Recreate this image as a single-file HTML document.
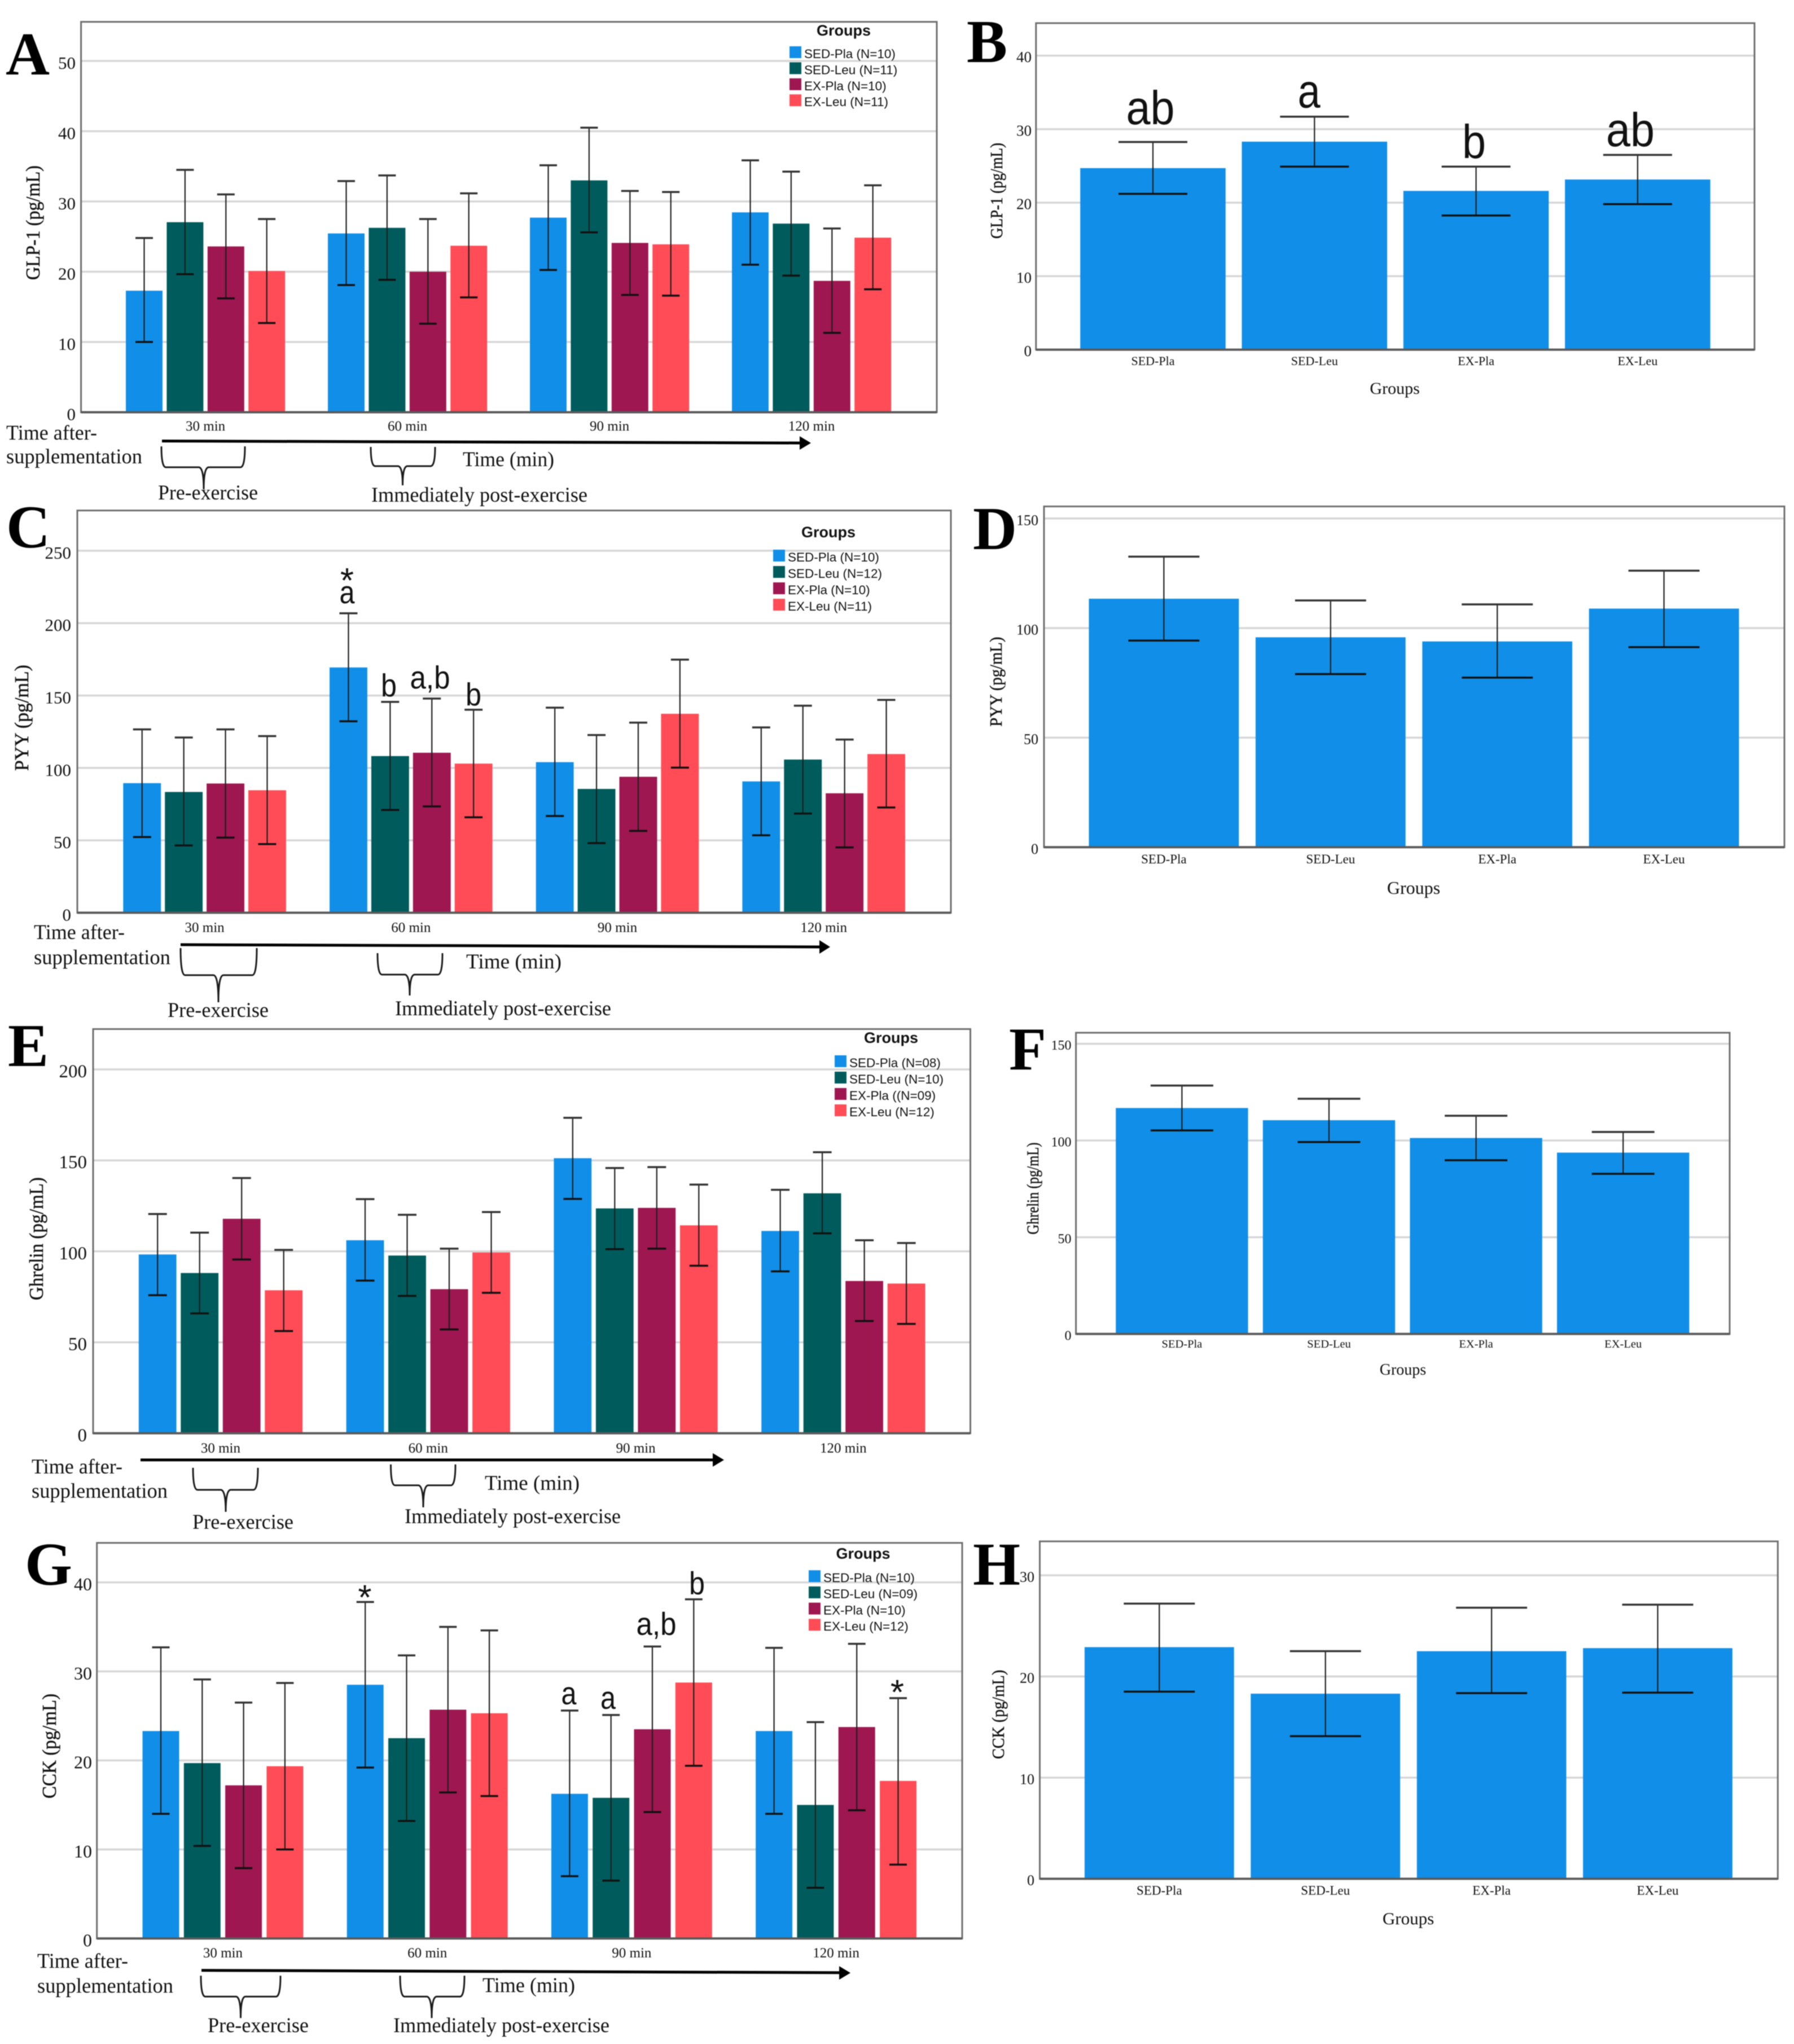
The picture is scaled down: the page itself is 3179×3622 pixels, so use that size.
<!DOCTYPE html>
<html lang="en">
<head>
<meta charset="utf-8">
<title>Gut hormone responses by group and time</title>
<style>
html,body{margin:0;padding:0;background:#fff;}
#figure{display:block;width:3179px;height:3622px;background:#fff;filter:blur(0.8px);}
text{font-family:"Liberation Serif",serif;fill:#111;}
.an{font-size:37px;fill:#111;}
.letter{font-family:"Liberation Serif",serif;font-weight:bold;font-size:108px;fill:#000;}
.ln{stroke:#000;fill:none;}
.br{stroke:#1a1a1a;stroke-width:3;fill:none;}
.stat{font-family:"Liberation Sans",sans-serif;fill:#111;}
</style>
</head>
<body>
<svg id="figure" xmlns="http://www.w3.org/2000/svg" width="3179" height="3622" viewBox="0 0 3179 3622">
  <rect width="3179" height="3622" fill="#fff"/>
  <g id="charts"></g>

  <g>
    <text class="letter" x="10" y="132">A</text>
    <text class="letter" x="1713" y="110">B</text>
    <text class="letter" x="11" y="970">C</text>
    <text class="letter" x="1724" y="973">D</text>
    <text class="letter" x="14" y="1889">E</text>
    <text class="letter" x="1788" y="1895">F</text>
    <text class="letter" x="44" y="2808">G</text>
    <text class="letter" x="1724" y="2808">H</text>
  </g>

  <g>
    <text class="an" x="11" y="779" textLength="161" lengthAdjust="spacingAndGlyphs">Time after-</text>
    <text class="an" x="11" y="821" textLength="241" lengthAdjust="spacingAndGlyphs">supplementation</text>
    <line class="ln" x1="287" y1="781.5" x2="1420" y2="785" stroke-width="5"/>
    <polygon points="1417,773 1437,785 1417,797" fill="#000"/>
    <text class="an" x="820" y="826" textLength="162" lengthAdjust="spacingAndGlyphs">Time (min)</text>
    <path class="br" d="M286 791 Q286 828 294 828 L352 828 Q361 828 361 867 Q361 828 370 828 L426 828 Q434 828 434 791"/>
    <path class="br" d="M657 792 Q657 826 665 826 L705 826 Q713.500 826 713.500 860 Q713.500 826 722 826 L763 826 Q771 826 771 792"/>
    <text class="an" x="280" y="885" textLength="177" lengthAdjust="spacingAndGlyphs">Pre-exercise</text>
    <text class="an" x="658" y="889" textLength="383" lengthAdjust="spacingAndGlyphs">Immediately post-exercise</text>
  </g>

  <g>
    <text class="an" x="60" y="1664" textLength="161" lengthAdjust="spacingAndGlyphs">Time after-</text>
    <text class="an" x="60" y="1708.500" textLength="242" lengthAdjust="spacingAndGlyphs">supplementation</text>
    <line class="ln" x1="320" y1="1674" x2="1455" y2="1678" stroke-width="5"/>
    <polygon points="1452,1666 1471,1678 1452,1690" fill="#000"/>
    <text class="an" x="826" y="1716" textLength="169" lengthAdjust="spacingAndGlyphs">Time (min)</text>
    <path class="br" d="M320 1680 Q320 1728 328 1728 L378 1728 Q387 1728 387 1776 Q387 1728 396 1728 L447 1728 Q455 1728 455 1680"/>
    <path class="br" d="M669 1689 Q669 1727 677 1727 L717 1727 Q726 1727 726 1764 Q726 1727 735 1727 L776 1727 Q784 1727 784 1689"/>
    <text class="an" x="297" y="1802" textLength="179" lengthAdjust="spacingAndGlyphs">Pre-exercise</text>
    <text class="an" x="700" y="1799" textLength="383" lengthAdjust="spacingAndGlyphs">Immediately post-exercise</text>
  </g>

  <g>
    <text class="an" x="56" y="2611" textLength="161" lengthAdjust="spacingAndGlyphs">Time after-</text>
    <text class="an" x="56" y="2654" textLength="241" lengthAdjust="spacingAndGlyphs">supplementation</text>
    <line class="ln" x1="249" y1="2587" x2="1266" y2="2587" stroke-width="5"/>
    <polygon points="1263,2575 1283,2587 1263,2599" fill="#000"/>
    <text class="an" x="859" y="2640" textLength="168" lengthAdjust="spacingAndGlyphs">Time (min)</text>
    <path class="br" d="M342 2601 Q342 2640 350 2640 L391 2640 Q400 2640 400 2679 Q400 2640 409 2640 L449 2640 Q457 2640 457 2601"/>
    <path class="br" d="M692.500 2595 Q692.500 2632 700 2632 L741 2632 Q750 2632 750 2671 Q750 2632 759 2632 L799 2632 Q807 2632 807 2595"/>
    <text class="an" x="341" y="2709" textLength="179" lengthAdjust="spacingAndGlyphs">Pre-exercise</text>
    <text class="an" x="717" y="2699" textLength="383" lengthAdjust="spacingAndGlyphs">Immediately post-exercise</text>
  </g>

  <g>
    <text class="an" x="66" y="3487" textLength="161" lengthAdjust="spacingAndGlyphs">Time after-</text>
    <text class="an" x="66" y="3531" textLength="241" lengthAdjust="spacingAndGlyphs">supplementation</text>
    <line class="ln" x1="357" y1="3491.500" x2="1490" y2="3495.600" stroke-width="5"/>
    <polygon points="1487,3484 1507,3496 1487,3508" fill="#000"/>
    <text class="an" x="855" y="3530" textLength="164" lengthAdjust="spacingAndGlyphs">Time (min)</text>
    <path class="br" d="M356 3501 Q356 3538 364 3538 L418 3538 Q426.500 3538 426.500 3576 Q426.500 3538 435 3538 L489 3538 Q497 3538 497 3501"/>
    <path class="br" d="M709 3501 Q709 3538 717 3538 L756 3538 Q765 3538 765 3576 Q765 3538 774 3538 L815 3538 Q823 3538 823 3501"/>
    <text class="an" x="368" y="3601" textLength="179" lengthAdjust="spacingAndGlyphs">Pre-exercise</text>
    <text class="an" x="697" y="3601" textLength="383" lengthAdjust="spacingAndGlyphs">Immediately post-exercise</text>
  </g>

  <g>
    <text class="stat" text-anchor="middle" font-size="84" x="2038.500" y="220" textLength="86" lengthAdjust="spacingAndGlyphs">ab</text>
    <text class="stat" text-anchor="middle" font-size="84" x="2319.600" y="190.700" textLength="40" lengthAdjust="spacingAndGlyphs">a</text>
    <text class="stat" text-anchor="middle" font-size="84" x="2612" y="280" textLength="42" lengthAdjust="spacingAndGlyphs">b</text>
    <text class="stat" text-anchor="middle" font-size="84" x="2889" y="259" textLength="86" lengthAdjust="spacingAndGlyphs">ab</text>

    <text class="stat" text-anchor="middle" font-size="62" x="615" y="1050">*</text>
    <text class="stat" text-anchor="middle" font-size="57" x="615" y="1069" textLength="27" lengthAdjust="spacingAndGlyphs">a</text>
    <text class="stat" text-anchor="middle" font-size="57" x="689" y="1234" textLength="28" lengthAdjust="spacingAndGlyphs">b</text>
    <text class="stat" text-anchor="middle" font-size="57" x="762" y="1220" textLength="71" lengthAdjust="spacingAndGlyphs">a,b</text>
    <text class="stat" text-anchor="middle" font-size="57" x="839" y="1250" textLength="28" lengthAdjust="spacingAndGlyphs">b</text>

    <text class="stat" text-anchor="middle" font-size="62" x="646.500" y="2852">*</text>
    <text class="stat" text-anchor="middle" font-size="57" x="1008" y="3020" textLength="27" lengthAdjust="spacingAndGlyphs">a</text>
    <text class="stat" text-anchor="middle" font-size="57" x="1077.500" y="3028" textLength="27" lengthAdjust="spacingAndGlyphs">a</text>
    <text class="stat" text-anchor="middle" font-size="57" x="1163" y="2897" textLength="71" lengthAdjust="spacingAndGlyphs">a,b</text>
    <text class="stat" text-anchor="middle" font-size="57" x="1235" y="2825" textLength="28" lengthAdjust="spacingAndGlyphs">b</text>
    <text class="stat" text-anchor="middle" font-size="62" x="1590" y="3020">*</text>
  </g>
</svg>

<script>
// ---- Shared categories ----
const timeLabels = ['30 min', '60 min', '90 min', '120 min'];
const groupLabels = ['SED-Pla', 'SED-Leu', 'EX-Pla', 'EX-Leu'];
const seriesColors = ['#118fe8', '#005c5c', '#9e1750', '#ff4c57'];

// ---- Panel A: GLP-1 by time ----
const aTicks = [0, 10, 20, 30, 40, 50];
const aMeans = [[17.3, 27.05, 23.6, 20.1], [25.45, 26.25, 20.0, 23.7], [27.7, 33.0, 24.1, 23.9], [28.45, 26.85, 18.7, 24.85]];
const aUpper = [[24.8, 34.5, 31.0, 27.5], [32.9, 33.7, 27.5, 31.15], [35.15, 40.5, 31.5, 31.35], [35.85, 34.25, 26.15, 32.3]];
const aLower = [[10.0, 19.65, 16.2, 12.7], [18.1, 18.85, 12.6, 16.35], [20.25, 25.6, 16.7, 16.6], [21.0, 19.45, 11.3, 17.5]];
const aLegend = ['SED-Pla (N=10)', 'SED-Leu (N=11)', 'EX-Pla (N=10)', 'EX-Leu (N=11)'];

// ---- Panel B: GLP-1 by group ----
const bTicks = [0, 10, 20, 30, 40];
const bMeans = [[24.7, 28.3, 21.6, 23.15]];
const bUpper = [[28.25, 31.7, 24.9, 26.5]];
const bLower = [[21.2, 24.9, 18.25, 19.8]];

// ---- Panel C: PYY by time ----
const cTicks = [0, 50, 100, 150, 200, 250];
const cMeans = [[89.5, 83.4, 89.25, 84.6], [169.4, 108.2, 110.5, 103], [104, 85.5, 93.9, 137.4], [90.7, 105.8, 82.5, 109.6]];
const cUpper = [[126.6, 121, 126.6, 122], [206.8, 145.6, 147.9, 140.2], [141.6, 122.7, 131.3, 174.8], [128, 143, 119.6, 147]];
const cLower = [[52.3, 46.5, 51.9, 47.4], [132.2, 71, 73.4, 65.9], [66.8, 48.1, 56.5, 100.2], [53.5, 68.5, 45.1, 72.7]];
const cLegend = ['SED-Pla (N=10)', 'SED-Leu (N=12)', 'EX-Pla (N=10)', 'EX-Leu (N=11)'];

// ---- Panel D: PYY by group ----
const dTicks = [0, 50, 100, 150];
const dMeans = [[113.4, 95.8, 93.9, 108.9]];
const dUpper = [[132.6, 112.6, 110.8, 126.2]];
const dLower = [[94.3, 79, 77.4, 91.3]];

// ---- Panel E: Ghrelin by time ----
const eTicks = [0, 50, 100, 150, 200];
const eMeans = [[98.3, 88.1, 117.9, 78.6], [106.1, 97.7, 79.2, 99.4], [151.2, 123.6, 123.9, 114.3], [111.2, 131.9, 83.7, 82.3]];
const eUpper = [[120.5, 110.3, 140.3, 100.8], [128.7, 120.1, 101.5, 121.6], [173.4, 145.8, 146.3, 136.7], [133.8, 154.5, 106.1, 104.6]];
const eLower = [[75.9, 65.9, 95.5, 56.2], [83.9, 75.5, 57.1, 77.2], [128.8, 101.2, 101.5, 92.1], [89, 109.9, 61.7, 60.1]];
const eLegend = ['SED-Pla (N=08)', 'SED-Leu (N=10)', 'EX-Pla ((N=09)', 'EX-Leu (N=12)'];

// ---- Panel F: Ghrelin by group ----
const fTicks = [0, 50, 100, 150];
const fMeans = [[116.8, 110.5, 101.3, 93.75]];
const fUpper = [[128.4, 121.6, 112.8, 104.4]];
const fLower = [[105.2, 99.2, 89.8, 82.8]];

// ---- Panel G: CCK by time ----
const gTicks = [0, 10, 20, 30, 40];
const gMeans = [[23.3, 19.7, 17.2, 19.35], [28.5, 22.5, 25.7, 25.3], [16.25, 15.8, 23.5, 28.75], [23.3, 15.0, 23.75, 17.7]];
const gUpper = [[32.7, 29.1, 26.5, 28.7], [37.8, 31.8, 35.0, 34.6], [25.6, 25.1, 32.8, 38.1], [32.65, 24.3, 33.1, 27.0]];
const gLower = [[14.0, 10.4, 7.9, 10.0], [19.2, 13.2, 16.4, 16.0], [7.0, 6.5, 14.2, 19.4], [14.0, 5.7, 14.4, 8.3]];
const gLegend = ['SED-Pla (N=10)', 'SED-Leu (N=09)', 'EX-Pla (N=10)', 'EX-Leu (N=12)'];

// ---- Panel H: CCK by group ----
const hTicks = [0, 10, 20, 30];
const hMeans = [[22.9, 18.3, 22.5, 22.8]];
const hUpper = [[27.2, 22.5, 26.8, 27.1]];
const hLower = [[18.5, 14.1, 18.35, 18.4]];

const SVGNS = 'http://www.w3.org/2000/svg';
const root = document.getElementById('charts');

function make(tag, attrs, parent, content) {
  const node = document.createElementNS(SVGNS, tag);
  for (const k in attrs) node.setAttribute(k, attrs[k]);
  if (content !== undefined) node.textContent = content;
  parent.appendChild(node);
  return node;
}

function drawPanel(p) {
  const g = make('g', {}, root);
  
  

  // axis functions
  const topTick = p.ticks[p.ticks.length - 1];
  const yScale = v => p.y0 - (v / topTick) * (p.y0 - p.yTop);
  const xBar = (gi, si) => p.barLeft + gi * p.groupStep + si * p.barStep;
  const xGroupCenter = gi => xBar(gi, 0) + (3 * p.barStep + p.barW) / 2;

  // gridlines
  p.ticks.forEach(t => {
    if (t === 0) return;
    const grid = make('line', { x1: p.L, x2: p.R, y1: yScale(t), y2: yScale(t), stroke: '#d6d6d6', 'stroke-width': 3.5 }, g);
    
    
  });

  // tick labels
  p.ticks.forEach(t => {
    const lab = make('text', { x: p.tickRight, y: yScale(t) + p.tickDy, 'text-anchor': 'end', 'font-size': p.tickFont, fill: '#222' }, g, String(t));
    
    
  });

  // bars
  p.means.forEach((row, gi) => {
    row.forEach((v, si) => {
      const bar = make('rect', {
        x: xBar(gi, si), y: yScale(v), width: p.barW, height: p.y0 - yScale(v),
        fill: p.grouped ? seriesColors[si] : seriesColors[0]
      }, g);
      
      
    });
  });

  // frame
  const frame = make('rect', { x: p.L, y: p.T, width: p.R - p.L, height: p.y0 - p.T, fill: 'none', stroke: '#6e6e6e', 'stroke-width': 3 }, g);
  
  
  const base = make('line', { x1: p.L, x2: p.R, y1: p.y0, y2: p.y0, stroke: '#5a5a5a', 'stroke-width': 4 }, g);
  
  

  // error bars
  p.means.forEach((row, gi) => {
    row.forEach((v, si) => {
      const cx = xBar(gi, si) + p.barW / 2;
      const hi = yScale(p.upper[gi][si]);
      const lo = yScale(p.lower[gi][si]);
      const stem = make('line', { x1: cx, x2: cx, y1: hi, y2: lo, stroke: '#1f1f1f', 'stroke-width': 2.2 }, g);
      
      
      const capHi = make('line', { x1: cx - p.capW / 2, x2: cx + p.capW / 2, y1: hi, y2: hi, stroke: '#333', 'stroke-width': 3.5 }, g);
      
      
      const capLo = make('line', { x1: cx - p.capW / 2, x2: cx + p.capW / 2, y1: lo, y2: lo, stroke: '#111', 'stroke-width': 3.5 }, g);
      
      
    });
  });

  // x category labels
  if (p.grouped) {
    timeLabels.forEach((t, gi) => {
      const lab = make('text', { x: xGroupCenter(gi), y: p.xLabelY, 'text-anchor': 'middle', 'font-size': p.xFont, fill: '#222' }, g, t);
      
      
    });
  } else {
    groupLabels.forEach((t, si) => {
      const lab = make('text', { x: xBar(0, si) + p.barW / 2, y: p.xLabelY, 'text-anchor': 'middle', 'font-size': p.xFont, fill: '#222' }, g, t);
      
      
    });
    const xt = make('text', { x: p.xTitleX, y: p.xTitleY, 'text-anchor': 'middle', 'font-size': p.xTitleFont, fill: '#222' }, g, 'Groups');
    
    
  }

  // y title
  const yt = make('text', {
    transform: 'translate(' + p.yTitleX + ' ' + p.yTitleY + ') rotate(-90)',
    'text-anchor': 'middle', 'font-size': p.yTitleFont, fill: '#222',
    stroke: '#222', 'stroke-width': 0.5,
    textLength: p.yTitleLen, lengthAdjust: 'spacingAndGlyphs'
  }, g, p.yTitle);
  
  

  // legend
  if (p.legend) {
    const lg = make('g', {}, g);
    
    
    const title = make('text', { x: p.legendTitleX, y: p.legendTitleY, 'text-anchor': 'middle', 'font-size': 27, 'font-weight': 'bold', style: 'font-family:"Liberation Sans",sans-serif', fill: '#222' }, lg, 'Groups');
    
    
    p.legend.forEach((t, i) => {
      const rowY = p.legendY + i * p.legendStep;
      const sw = make('rect', { x: p.swatchX, y: rowY - 21, width: 21, height: 21, fill: seriesColors[i] }, lg);
      
      
      const tx = make('text', { x: p.swatchX + 26, y: rowY, 'font-size': 22.500, style: 'font-family:"Liberation Sans",sans-serif', fill: '#333' }, lg, t);
      
      
    });
  }
}

const panels = [
  { id: 'a', grouped: true, ticks: aTicks, means: aMeans, upper: aUpper, lower: aLower, legend: aLegend,
    L: 143.6, R: 1660, T: 38.7, y0: 730.5, yTop: 108, barLeft: 223, barW: 65, barStep: 72.4, groupStep: 358, capW: 31,
    tickRight: 134, tickDy: 14, tickFont: 31, xLabelY: 763, xFont: 25,
    yTitle: 'GLP-1 (pg/mL)', yTitleX: 70, yTitleY: 394.6, yTitleLen: 203, yTitleFont: 35,
    legendTitleX: 1495, legendTitleY: 63, swatchX: 1399, legendY: 103, legendStep: 28.4 },
  { id: 'b', grouped: false, ticks: bTicks, means: bMeans, upper: bUpper, lower: bLower,
    L: 1835.8, R: 3109, T: 41, y0: 619.6, yTop: 98.6, barLeft: 1914.2, barW: 257.6, barStep: 286.3, groupStep: 0, capW: 122,
    tickRight: 1828, tickDy: 11.5, tickFont: 27, xLabelY: 647, xFont: 22, xTitleX: 2471.6, xTitleY: 698, xTitleFont: 30,
    yTitle: 'GLP-1 (pg/mL)', yTitleX: 1776, yTitleY: 338, yTitleLen: 170, yTitleFont: 31 },
  { id: 'c', grouped: true, ticks: cTicks, means: cMeans, upper: cUpper, lower: cLower, legend: cLegend,
    L: 137, R: 1685, T: 904.6, y0: 1617.4, yTop: 975.9, barLeft: 218.3, barW: 66.9, barStep: 73.9, groupStep: 365.7, capW: 32,
    tickRight: 126, tickDy: 14, tickFont: 31, xLabelY: 1651.5, xFont: 25,
    yTitle: 'PYY (pg/mL)', yTitleX: 50, yTitleY: 1272, yTitleLen: 188, yTitleFont: 35,
    legendTitleX: 1468, legendTitleY: 952, swatchX: 1370, legendY: 995, legendStep: 29 },
  { id: 'd', grouped: false, ticks: dTicks, means: dMeans, upper: dUpper, lower: dLower,
    L: 1850, R: 3162, T: 897.4, y0: 1501.3, yTop: 918.8, barLeft: 1929.5, barW: 265.8, barStep: 295.4, groupStep: 0, capW: 126,
    tickRight: 1840, tickDy: 11.5, tickFont: 26, xLabelY: 1530, xFont: 23, xTitleX: 2505, xTitleY: 1584, xTitleFont: 32,
    yTitle: 'PYY (pg/mL)', yTitleX: 1775, yTitleY: 1208, yTitleLen: 159, yTitleFont: 31 },
  { id: 'e', grouped: true, ticks: eTicks, means: eMeans, upper: eUpper, lower: eLower, legend: eLegend,
    L: 165, R: 1719.5, T: 1823.5, y0: 2539.8, yTop: 1895, barLeft: 245.8, barW: 66.8, barStep: 74.5, groupStep: 367.8, capW: 33,
    tickRight: 154, tickDy: 14, tickFont: 33, xLabelY: 2574, xFont: 25,
    yTitle: 'Ghrelin (pg/mL)', yTitleX: 76, yTitleY: 2195, yTitleLen: 218, yTitleFont: 35,
    legendTitleX: 1579, legendTitleY: 1848, swatchX: 1479, legendY: 1891, legendStep: 29 },
  { id: 'f', grouped: false, ticks: fTicks, means: fMeans, upper: fUpper, lower: fLower,
    L: 1906.6, R: 3065, T: 1830, y0: 2363.8, yTop: 1849.6, barLeft: 1977.2, barW: 234.4, barStep: 260.6, groupStep: 0, capW: 111,
    tickRight: 1898.5, tickDy: 10.5, tickFont: 24, xLabelY: 2388, xFont: 20.5, xTitleX: 2486, xTitleY: 2436, xTitleFont: 28,
    yTitle: 'Ghrelin (pg/mL)', yTitleX: 1840, yTitleY: 2106, yTitleLen: 163, yTitleFont: 30 },
  { id: 'g', grouped: true, ticks: gTicks, means: gMeans, upper: gUpper, lower: gLower, legend: gLegend,
    L: 171.7, R: 1705, T: 2734, y0: 3435, yTop: 2804, barLeft: 252.5, barW: 65, barStep: 73.3, groupStep: 362.2, capW: 31,
    tickRight: 163, tickDy: 14, tickFont: 32, xLabelY: 3468.5, xFont: 25,
    yTitle: 'CCK (pg/mL)', yTitleX: 99, yTitleY: 3094, yTitleLen: 186, yTitleFont: 35,
    legendTitleX: 1529.5, legendTitleY: 2762, swatchX: 1433, legendY: 2803.5, legendStep: 28.7 },
  { id: 'h', grouped: false, ticks: hTicks, means: hMeans, upper: hUpper, lower: hLower,
    L: 1842.5, R: 3150.3, T: 2731.3, y0: 3329.2, yTop: 2791.5, barLeft: 1921.9, barW: 264.8, barStep: 294.4, groupStep: 0, capW: 126,
    tickRight: 1833, tickDy: 11.5, tickFont: 26, xLabelY: 3357.6, xFont: 23, xTitleX: 2495.5, xTitleY: 3410, xTitleFont: 31,
    yTitle: 'CCK (pg/mL)', yTitleX: 1779, yTitleY: 3038, yTitleLen: 158, yTitleFont: 31 }
];

panels.forEach(drawPanel);
</script>
</body>
</html>
